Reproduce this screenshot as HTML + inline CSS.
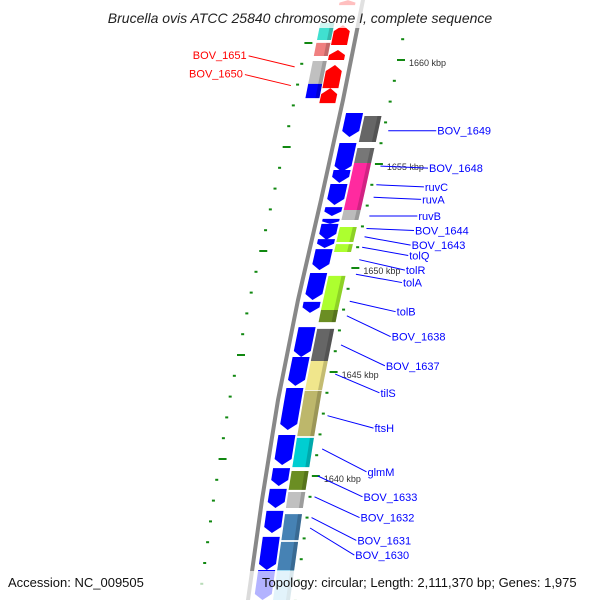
<!DOCTYPE html>
<html><head><meta charset="utf-8"><style>
html,body{margin:0;padding:0;background:#fff}
svg{display:block}
text{font-family:"Liberation Sans","DejaVu Sans",sans-serif}
</style></head><body>
<svg id="c" width="600" height="600" viewBox="0 0 600 600" xmlns="http://www.w3.org/2000/svg">
<g id="ticks"></g>
<path id="backbone" fill="none" stroke="#888" stroke-width="4"/>
<g id="genes"></g>
<g id="labels"></g>
<rect x="0" y="0" width="600" height="28" fill="#fff" opacity="0.75"/>
<text x="300" y="23" text-anchor="middle" font-size="14" font-style="italic" fill="#222">Brucella ovis ATCC 25840 chromosome I, complete sequence</text>
<rect x="0" y="571" width="600" height="29" fill="#fff" opacity="0.7"/>
<text x="8" y="587" font-size="13" fill="#111">Accession: NC_009505</text>
<text x="262" y="587" font-size="13" fill="#111">Topology: circular; Length: 2,111,370 bp; Genes: 1,975</text>
</svg>
<script>
// data (positions in kbp)
const rightStrandStarts = [1657.45,1656.01,1655.19,1654.71,1654.04,1652.93,1652.36,1652.12,1651.39,1650.91,1649.76,1648.37,1647.16,1645.72,1644.23,1641.97,1640.38,1639.38,1638.32,1637.07,1635.48];
const rightStrandEnds   = [1656.30,1654.90,1654.62,1654.09,1653.03,1652.50,1652.12,1651.35,1650.96,1649.90,1648.46,1647.84,1645.72,1644.33,1642.21,1640.53,1639.52,1638.46,1637.26,1635.48,1634.04];
const cogStarts = [1657.31,1655.77,1655.05,1653.75,1652.79,1651.97,1651.15,1649.62,1647.98,1647.07,1645.53,1644.09,1641.83,1640.24,1639.23,1638.17,1636.83,1635.48];
const cogEnds   = [1656.06,1655.05,1653.75,1652.79,1652.31,1651.25,1650.77,1647.98,1647.40,1645.53,1644.13,1641.92,1640.43,1639.33,1638.46,1636.92,1635.48,1634.04];
const cogColors = ["#666","#777","#ff2a9f","#ff2a9f","#bbb","#adff2f","#adff2f","#adff2f","#6b8e23","#666","#f0e68c","#bdb76b","#00ced1","#6b8e23","#c0c0c0","#4682b4","#4682b4","#9fd8f0"];
const leftStrandStarts = [1662.88,1661.68,1660.48,1659.76,1658.65];
const leftStrandEnds   = [1662.64,1660.72,1660.00,1658.65,1657.93];
const leftCogStarts = [1661.78,1660.82,1659.95,1658.85];
const leftCogEnds   = [1660.96,1660.19,1658.85,1658.17];
const leftCogColors = ["#40e0d0","#f08080","#c0c0c0","#0000ff"];
const tickKbp = [1661,1660,1659,1658,1657,1656,1655,1654,1653,1652,1651,1650,1649,1648,1647,1646,1645,1644,1643,1642,1641,1640,1639,1638,1637,1636,1635,1634];
const majorLabels = ["1660 kbp","1655 kbp","1650 kbp","1645 kbp","1640 kbp"];
const majorKbp = [1660,1655,1650,1645,1640];
const labelNames = ["BOV_1649","BOV_1648","ruvC","ruvA","ruvB","BOV_1644","BOV_1643","tolQ","tolR","tolA","tolB","BOV_1638","BOV_1637","tilS","ftsH","glmM","BOV_1633","BOV_1632","BOV_1631","BOV_1630"];
const labelKbp = [1656.6,1654.8,1653.9,1653.3,1652.5,1651.8,1651.1,1650.6,1649.9,1649.3,1647.9,1646.7,1645.3,1644.0,1642.3,1640.2,1639.0,1638.0,1636.9,1636.2];
const labelTargetKbp = [1656.6,1654.9,1654.0,1653.4,1652.5,1651.9,1651.5,1651.0,1650.4,1649.7,1648.4,1647.7,1646.3,1644.9,1642.9,1641.3,1640.0,1639.0,1638.0,1637.5];
const leftLabelNames = ["BOV_1651","BOV_1650"];
const leftLabelKbp = [1660.2,1659.3];

const NS="http://www.w3.org/2000/svg";
function yOf(k){return 60+(1660-k)*20.8;}
const bbY=[-20,0,100,200,300,400,500,600,620], bbX=[367,363,343,321,298,278,262,248,245];
function xOf(y){for(let i=0;i<bbY.length-1;i++){if(y<=bbY[i+1]){const t=(y-bbY[i])/(bbY[i+1]-bbY[i]);return bbX[i]+t*(bbX[i+1]-bbX[i]);}}return bbX[bbX.length-1];}
function mk(tag,attrs,parent){const e=document.createElementNS(NS,tag);for(const k in attrs)e.setAttribute(k,attrs[k]);parent.appendChild(e);return e;}
let d="M"+xOf(-10)+",-10";for(let y=0;y<=610;y+=10)d+=" L"+xOf(y).toFixed(1)+","+y;
document.getElementById('backbone').setAttribute('d',d);

const G=document.getElementById('genes'),T=document.getElementById('ticks'),L=document.getElementById('labels');
function pt(y,o){return (xOf(y)+o).toFixed(1)+","+y.toFixed(1);}
function box(k1,k2,o1,o2,fill,name){const y1=yOf(k1),y2=yOf(k2);
 const p=mk('polygon',{points:[pt(y1,o1),pt(y1,o2),pt(y2,o2),pt(y2,o1)].join(' '),fill:fill},G);
 
 
 mk('polygon',{points:[pt(y1,o2-4),pt(y1,o2),pt(y2,o2),pt(y2,o2-4)].join(' '),fill:'#000',opacity:0.18},G);}
function arrow(k1,k2,o1,o2,fill,down,name){const y1=yOf(k1),y2=yOf(k2);const h=Math.min(6,(y2-y1)/2);const m=(o1+o2)/2;let pts;
 if(down)pts=[pt(y1,o1),pt(y1,o2),pt(y2-h,o2),pt(y2,m),pt(y2-h,o1)];
 else pts=[pt(y1+h,o1),pt(y1,m),pt(y1+h,o2),pt(y2,o2),pt(y2,o1)];
 const p=mk('polygon',{points:pts.join(' '),fill:fill},G);
 
 }
rightStrandStarts.forEach((s,i)=>arrow(s,rightStrandEnds[i],6,23,'#0000ff',true,'reverse-gene'));
cogStarts.forEach((s,i)=>box(s,cogEnds[i],25,42,cogColors[i],'cog-box'));
leftStrandStarts.forEach((s,i)=>arrow(s,leftStrandEnds[i],-23,-7,'#ff0000',false,'forward-gene'));
leftCogStarts.forEach((s,i)=>box(s,leftCogEnds[i],-38,-24,leftCogColors[i],'left-cog-box'));

tickKbp.forEach(k=>{const y=yOf(k);const major=majorKbp.indexOf(k)>=0;
 const r=mk('rect',{x:xOf(y)+46,y:y-1,width:major?8:3,height:2,fill:'#118811'},T);
 
 
 const yl=y-17;const l=mk('rect',{x:xOf(yl)-50,y:yl-1,width:major?8:3,height:2,fill:'#118811'},T);
 
 });
majorKbp.forEach((k,i)=>{const y=yOf(k);const t=mk('text',{x:xOf(y)+58,y:y+6,'font-size':9,fill:'#333'},T);t.textContent=majorLabels[i];
 
 });

labelNames.forEach((n,i)=>{const ty=yOf(labelTargetKbp[i]);const ly=yOf(labelKbp[i]);const x0=xOf(ty)+52;const lx=xOf(ly)+100;
 const ln=mk('line',{x1:x0,y1:ty,x2:lx,y2:ly,stroke:'#0000ff','stroke-width':1},L);
 
 
 const t=mk('text',{x:lx+1,y:ly+4,'font-size':11,fill:'#0000ff'},L);t.textContent=n;
 
 });
leftLabelNames.forEach((n,i)=>{const y=yOf(leftLabelKbp[i]);const x0=xOf(y+11)-55;
 const ln=mk('line',{x1:x0-46,y1:y,x2:x0,y2:y+11,stroke:'#ff0000','stroke-width':1},L);
 
 
 const t=mk('text',{x:x0-48,y:y+3,'font-size':11,fill:'#ff0000','text-anchor':'end'},L);t.textContent=n;
 
 });
</script>
</body></html>
